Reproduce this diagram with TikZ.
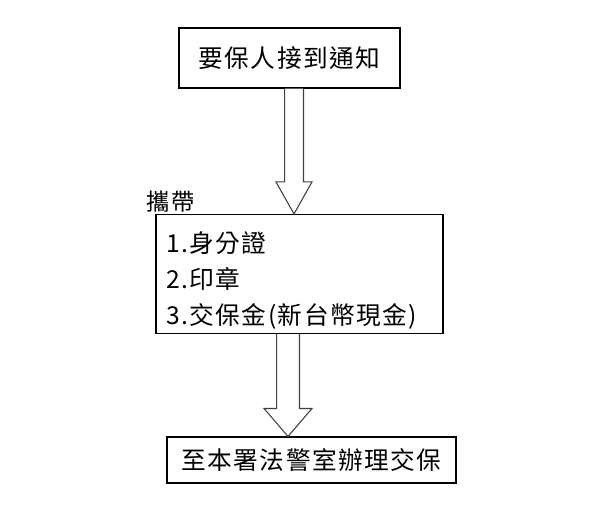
\documentclass[tikz,border=0pt]{standalone}
\usepackage{fontspec}
\newfontfamily\cjk[LetterSpace=6]{Noto Sans CJK TC}
\usetikzlibrary{calc}

\begin{document}
\begin{tikzpicture}[x=0.75pt,y=-0.75pt]
    \tikzset{box/.style={draw, line width=0.8pt, font=\cjk\fontsize{18.5}{26}\selectfont},
             hollow/.style={draw=black!75, line width=0.8pt, fill=white}}
    \useasboundingbox (0,0) rectangle (604,515);
    % steps
    \node[box, minimum width=165.75pt, minimum height=45pt] (notice) at (289.5,58) {要保人接到通知};
    \node[box, minimum width=215.25pt, minimum height=81pt, text width=200pt, align=left,
          inner xsep=7pt] (items) at (299.5,274)
          {\rule{0pt}{25pt}1.身分證\\[1pt]2.印章\\[1pt]3.交保金(新台幣現金)};
    \node[box, minimum width=216.75pt, minimum height=34.5pt] (office) at (311.5,460) {至本署法警室辦理交保};
    \node[anchor=west, font=\cjk\fontsize{17.5}{20}\selectfont] (carry) at (142,202) {攜帶};
    % block arrows
    \coordinate (a1) at (294,0);
    \coordinate (a2) at (288,0);
    \draw[hollow] let \p1=(a1 |- notice.south), \p2=(a1 |- items.north) in
        (\x1-7.1pt,\y1) -- (\x1-7.1pt,\y2+24pt) -- (\x1-13.5pt,\y2+24pt) -- (\p2)
        -- (\x1+13.5pt,\y2+24pt) -- (\x1+7.1pt,\y2+24pt) -- (\x1+7.1pt,\y1);
    \draw[hollow] let \p1=(a2 |- items.south), \p2=(a2 |- office.north) in
        (\x1-8.6pt,\y1) -- (\x1-8.6pt,\y2+21pt) -- (\x1-18pt,\y2+21pt) -- (\p2)
        -- (\x1+18pt,\y2+21pt) -- (\x1+8.6pt,\y2+21pt) -- (\x1+8.6pt,\y1);
\end{tikzpicture}
\end{document}
